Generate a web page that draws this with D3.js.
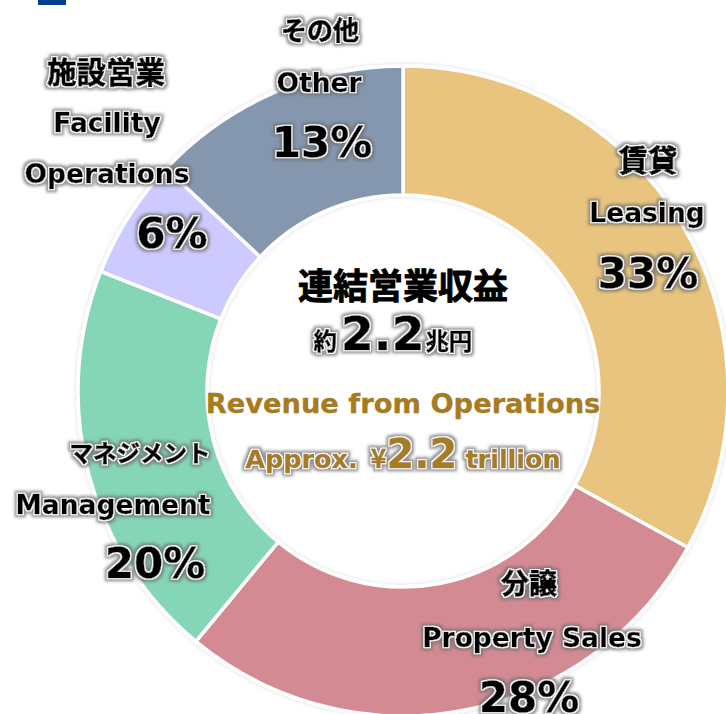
<!DOCTYPE html>
<html><head><meta charset="utf-8">
<script src="https://cdn.jsdelivr.net/npm/d3@7"></script>
<style>
html,body{margin:0;padding:0;background:#fff;}
svg{display:block;}
</style></head>
<body>
<svg id="chart" width="726" height="714"></svg>
<script>
// ---- data ----
const categoriesJa = ["賃貸", "分譲", "マネジメント", "施設営業", "その他"];
const categoriesEn = [["Leasing"], ["Property Sales"], ["Management"], ["Facility", "Operations"], ["Other"]];
const values = [33, 28, 20, 6, 13];
const centerTitleJa = "連結営業収益";
const centerValue = "2.2";
const centerTitleEn = "Revenue from Operations";

// ---- styles / layout ----
const colors = ["#E8C47E", "#D48A92", "#84D6B6", "#CCCAFF", "#8497AF"];
const cx = 403, cy = 391, rOuter = 325, rInner = 196;
const labelLayout = [
  {xJa: 648, yJa: 171, sJa: 29.5, xEn: 647, yEn: [222], xP: 648, yP: 288},
  {xJa: 529, yJa: 594, sJa: 28, xEn: 532, yEn: [647], xP: 529, yP: 712},
  {xJa: 140, yJa: 462, sJa: 23.5, xEn: 113, yEn: [514], xP: 155, yP: 578},
  {xJa: 106, yJa: 83, sJa: 29.5, xEn: 107, yEn: [132, 183], xP: 172, yP: 248},
  {xJa: 320, yJa: 40, sJa: 26, xEn: 319, yEn: [92], xP: 322, yP: 157}
];

const svg = d3.select("#chart");
const defs = svg.append("defs");
const f = defs.append("filter").attr("id", "halo")
  .attr("x", "-30%").attr("y", "-50%").attr("width", "160%").attr("height", "200%");
f.append("feMorphology").attr("in", "SourceAlpha").attr("operator", "dilate").attr("radius", 3).attr("result", "d3");
f.append("feGaussianBlur").attr("in", "d3").attr("stdDeviation", 1.8).attr("result", "bl");
f.append("feFlood").attr("flood-color", "#6e6e6e").attr("flood-opacity", 0.75).attr("result", "fg");
f.append("feComposite").attr("in", "fg").attr("in2", "bl").attr("operator", "in").attr("result", "gray");
f.append("feMorphology").attr("in", "SourceAlpha").attr("operator", "dilate").attr("radius", 1.4).attr("result", "d1");
f.append("feFlood").attr("flood-color", "#ffffff").attr("result", "fw");
f.append("feComposite").attr("in", "fw").attr("in2", "d1").attr("operator", "in").attr("result", "white");
const m = f.append("feMerge");
m.append("feMergeNode").attr("in", "gray");
m.append("feMergeNode").attr("in", "white");
m.append("feMergeNode").attr("in", "SourceGraphic");

const sh = defs.append("filter").attr("id", "shadow").attr("x", "-10%").attr("y", "-10%").attr("width", "120%").attr("height", "120%");
sh.append("feDropShadow").attr("dx", 0).attr("dy", 0).attr("stdDeviation", 2).attr("flood-color", "#000").attr("flood-opacity", 0.15);

// top-left blue mark
svg.append("rect").attr("x", 38).attr("y", 0).attr("width", 28).attr("height", 5).attr("fill", "#003E92");

const pie = d3.pie().sort(null).value(d => d)(values);
const arc = d3.arc().innerRadius(rInner).outerRadius(rOuter);

const g = svg.append("g").attr("transform", `translate(${cx},${cy})`);
g.append("g").attr("filter", "url(#shadow)")
  .selectAll("path").data(pie).join("path")
  .attr("d", arc)
  .attr("fill", (d, i) => colors[i])
  .attr("stroke", "#fff").attr("stroke-width", 3.5).attr("stroke-linejoin", "miter");

const latin = "'DejaVu Sans', Verdana, sans-serif";
const cjk = "'Noto Sans CJK JP', 'Noto Sans CJK SC', sans-serif";

const lab = svg.append("g").attr("filter", "url(#halo)");
labelLayout.forEach((L, i) => {
  lab.append("text").attr("x", L.xJa).attr("y", L.yJa)
    .attr("text-anchor", "middle").attr("font-family", cjk).attr("font-weight", 700)
    .attr("font-size", L.sJa).attr("fill", "#000")
    .attr("stroke", "#000").attr("stroke-width", 0.9).text(categoriesJa[i]);
  categoriesEn[i].forEach((t, j) => {
    lab.append("text").attr("x", L.xEn).attr("y", L.yEn[j])
      .attr("text-anchor", "middle").attr("font-family", latin).attr("font-weight", 700)
      .attr("font-size", 26.5).attr("fill", "#000")
      .attr("stroke", "#000").attr("stroke-width", 0.4).text(t);
  });
  lab.append("text").attr("x", L.xP).attr("y", L.yP)
    .attr("text-anchor", "middle").attr("font-family", latin).attr("font-weight", 700)
    .attr("font-size", 42).attr("fill", "#000")
    .attr("stroke", "#000").attr("stroke-width", 0.6).text(values[i] + "%");
});

// center text
svg.append("text").attr("x", cx).attr("y", 299).attr("text-anchor", "middle")
  .attr("font-family", cjk).attr("font-weight", 700).attr("font-size", 35).attr("fill", "#000")
  .attr("stroke", "#000").attr("stroke-width", 0.9)
  .text(centerTitleJa);

const t2 = svg.append("text").attr("x", cx - 10).attr("y", 350).attr("text-anchor", "middle")
  .attr("filter", "url(#halo)").attr("font-weight", 700).attr("fill", "#000")
  .attr("stroke", "#000").attr("stroke-width", 0.7);
t2.append("tspan").attr("font-family", cjk).attr("font-size", 23.5).text("約");
t2.append("tspan").attr("font-family", latin).attr("font-size", 47).attr("dx", 4).text(centerValue);
t2.append("tspan").attr("font-family", cjk).attr("font-size", 23.5).attr("dx", 1).text("兆円");

svg.append("text").attr("x", cx).attr("y", 413).attr("text-anchor", "middle")
  .attr("font-family", latin).attr("font-weight", 700).attr("font-size", 27.3).attr("fill", "#A67B22")
  .attr("stroke", "#A67B22").attr("stroke-width", 0.3)
  .text(centerTitleEn);

const t4 = svg.append("text").attr("x", cx).attr("y", 468).attr("text-anchor", "middle")
  .attr("filter", "url(#halo)").attr("font-family", latin).attr("font-weight", 700).attr("fill", "#A67B22")
  .attr("stroke", "#A67B22").attr("stroke-width", 0.4);
t4.append("tspan").attr("font-size", 25.5).text("Approx. ");
t4.append("tspan").attr("font-family", cjk).attr("font-size", 27).attr("dx", 4).text("¥");
t4.append("tspan").attr("font-size", 40).text(centerValue);
t4.append("tspan").attr("font-size", 25.5).attr("dx", 8).text("trillion");
</script>
</body></html>
